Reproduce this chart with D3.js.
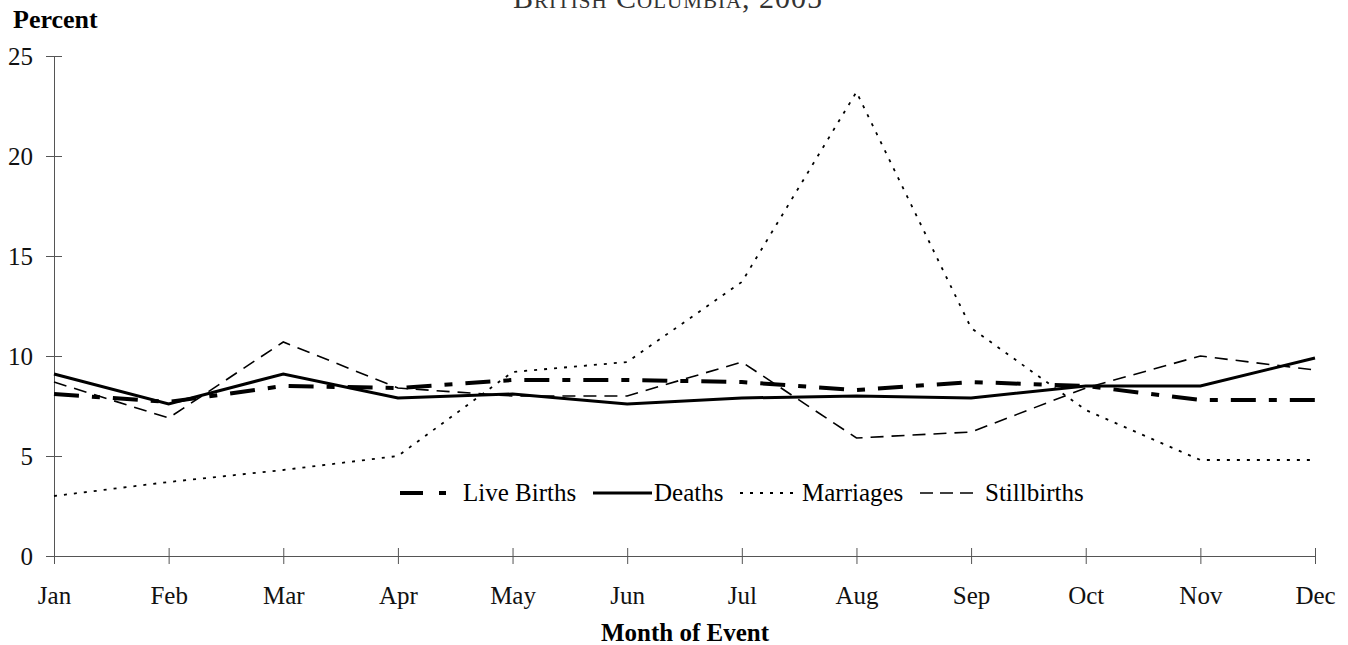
<!DOCTYPE html>
<html>
<head>
<meta charset="utf-8">
<title>Monthly distribution of vital events</title>
<script src="https://cdn.jsdelivr.net/npm/d3@7"></script>
<style>
    html, body { margin: 0; background: #fff; }
    svg { display: block; font-family: "Liberation Serif", "Times New Roman", serif; }
    .axis path, .axis line { stroke: #555; }
    .axis text { font-size: 25px; fill: #111; font-family: "Liberation Serif", serif; }
    .series { fill: none; stroke: #000; }
</style>
</head>
<body>
<svg width="1348" height="645"></svg>
<script>
var months = ["Jan", "Feb", "Mar", "Apr", "May", "Jun", "Jul", "Aug", "Sep", "Oct", "Nov", "Dec"];
var liveBirths  = [8.1, 7.7, 8.5, 8.4, 8.8, 8.8, 8.7, 8.3, 8.7, 8.5, 7.8, 7.8];
var deaths      = [9.1, 7.6, 9.1, 7.9, 8.1, 7.6, 7.9, 8.0, 7.9, 8.5, 8.5, 9.9];
var marriages   = [3.0, 3.7, 4.3, 5.0, 9.2, 9.7, 13.7, 23.2, 11.4, 7.3, 4.8, 4.8];
var stillbirths = [8.7, 6.9, 10.7, 8.4, 8.0, 8.0, 9.7, 5.9, 6.2, 8.4, 10.0, 9.3];
var yTicks = [0, 5, 10, 15, 20, 25];

// line styles per series
var series = [
    {name: "Live Births", values: liveBirths,  width: 4,   dash: "25,13,8,13", legendDash: "23,16,7,30"},
    {name: "Deaths",      values: deaths,      width: 3,   dash: null,         legendDash: null},
    {name: "Marriages",   values: marriages,   width: 1.8, dash: "3,7",        legendDash: "3,7"},
    {name: "Stillbirths", values: stillbirths, width: 1.6, dash: "13,8",       legendDash: "13,7"}
];

var svg = d3.select("svg");

var x = d3.scalePoint().domain(months).range([54, 1315]);
var y = d3.scaleLinear().domain([0, 25]).range([556, 56]);

// title (top is cut off in the original too)
svg.append("text")
    .attr("x", 668).attr("y", 8)
    .attr("text-anchor", "middle")
    .style("font-size", "30px")
    .style("font-variant", "small-caps")
    .style("letter-spacing", "1px")
    .attr("fill", "#333")
    .text("British Columbia, 2005");

svg.append("text")
    .attr("x", 13).attr("y", 28)
    .style("font-size", "26px").style("font-weight", "bold")
    .text("Percent");

// axes
var yAxis = d3.axisLeft(y).tickValues(yTicks).tickSize(8).tickPadding(13).tickSizeOuter(0);
var gy = svg.append("g").attr("class", "axis").attr("transform", "translate(54,0)").call(yAxis);
gy.selectAll(".tick line").attr("x2", 8).attr("x1", -8);

var xAxis = d3.axisBottom(x).tickSize(8).tickPadding(22).tickSizeOuter(0);
var gx = svg.append("g").attr("class", "axis").attr("transform", "translate(0,556)").call(xAxis);
gx.selectAll(".tick line").attr("y1", -8).attr("y2", 8);
gx.select(".domain").attr("d", "M47,0.5H1315");

svg.append("text")
    .attr("x", 685).attr("y", 641)
    .attr("text-anchor", "middle")
    .style("font-size", "25px").style("font-weight", "bold")
    .text("Month of Event");

// lines
var line = d3.line()
    .x(function(d, i) { return x(months[i]); })
    .y(function(d) { return y(d); });

svg.selectAll("path.series")
    .data(series)
    .enter().append("path")
    .attr("class", "series")
    .attr("d", function(d) { return line(d.values); })
    .attr("stroke-width", function(d) { return d.width; })
    .attr("stroke-dasharray", function(d) { return d.dash; });

// legend
var legend = [
    {s: series[0], x1: 400, x2: 447, tx: 463},
    {s: series[1], x1: 593, x2: 652, tx: 654},
    {s: series[2], x1: 740, x2: 797, tx: 802},
    {s: series[3], x1: 920, x2: 974, tx: 985}
];
var lg = svg.append("g");
legend.forEach(function(l) {
    lg.append("line")
        .attr("x1", l.x1).attr("x2", l.x2).attr("y1", 493).attr("y2", 493)
        .attr("stroke", "#000")
        .attr("stroke-width", l.s.width)
        .attr("stroke-dasharray", l.s.legendDash);
    lg.append("text")
        .attr("x", l.tx).attr("y", 501)
        .style("font-size", "25px")
        .text(l.s.name);
});
</script>
</body>
</html>
